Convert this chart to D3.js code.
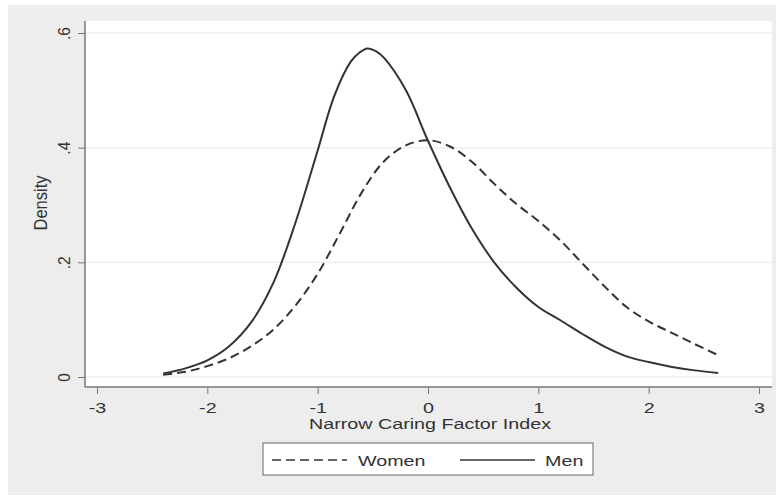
<!DOCTYPE html>
<html>
<head>
<meta charset="utf-8">
<script src="https://cdn.jsdelivr.net/npm/d3@7"></script>
<style>
  body { margin: 0; background: #fff; }
  text { font-family: "Liberation Sans", Arial, sans-serif; fill: #333; }
</style>
</head>
<body>
<svg id="chart"></svg>
<script>
// Chart dimensions
const width = 780;
const height = 498;
const stretch = 1.36; // the picture's text is drawn wide
const stretchV = 1.12; // rotated labels

// DATA
const womenX = [-2.4, -2.2, -2.0, -1.8, -1.6, -1.4, -1.2, -1.0, -0.8, -0.6, -0.4, -0.2, 0.0, 0.2, 0.4, 0.6, 0.8, 1.0, 1.2, 1.4, 1.6, 1.8, 2.0, 2.2, 2.4, 2.63];
const womenY = [0.004, 0.009, 0.019, 0.033, 0.054, 0.083, 0.125, 0.18, 0.25, 0.322, 0.376, 0.404, 0.413, 0.402, 0.375, 0.337, 0.302, 0.272, 0.238, 0.198, 0.158, 0.122, 0.097, 0.078, 0.059, 0.038];

const menX = [-2.4, -2.2, -2.0, -1.8, -1.6, -1.4, -1.2, -1.0, -0.85, -0.7, -0.62, -0.55, -0.47, -0.4, -0.2, 0.0, 0.2, 0.4, 0.6, 0.8, 1.0, 1.2, 1.4, 1.6, 1.8, 2.0, 2.2, 2.4, 2.63];
const menY = [0.006, 0.015, 0.029, 0.054, 0.096, 0.165, 0.27, 0.395, 0.49, 0.55, 0.566, 0.573, 0.568, 0.557, 0.5, 0.412, 0.33, 0.258, 0.2, 0.156, 0.122, 0.099, 0.075, 0.053, 0.036, 0.026, 0.018, 0.012, 0.007];

const xTicks = [-3, -2, -1, 0, 1, 2, 3];
const yTicks = [0, 0.2, 0.4, 0.6];
const yTickLabels = ["0", ".2", ".4", ".6"];
const legendLabels = ["Women", "Men"];

const svg = d3.select("#chart").attr("width", width).attr("height", height);

// graph region (gray) and plot region (white)
svg.append("rect")
  .attr("x", 8).attr("y", 5)
  .attr("width", 768).attr("height", 490)
  .attr("fill", "#ededed");

const plot = { left: 85, right: 772, top: 21, bottom: 387 };

svg.append("rect")
  .attr("x", plot.left).attr("y", plot.top)
  .attr("width", plot.right - plot.left).attr("height", plot.bottom - plot.top)
  .attr("fill", "#fff");

// SCALES
const x = d3.scaleLinear().domain([-3, 3]).range([97, 759]);
const y = d3.scaleLinear().domain([0, 0.6]).range([377, 33]);

// gridlines
svg.append("g")
  .selectAll("line")
  .data(yTicks)
  .enter()
  .append("line")
  .attr("x1", plot.left).attr("x2", plot.right)
  .attr("y1", d => y(d)).attr("y2", d => y(d))
  .attr("stroke", "#efefef")
  .attr("stroke-width", 1.5);

// AXES
const xAxis = d3.axisBottom(x).tickValues(xTicks).tickSize(7)
  .tickFormat(d3.format("d"));

const gx = svg.append("g")
  .attr("transform", `translate(0, ${plot.bottom})`)
  .call(xAxis);
gx.select(".domain").remove();
gx.append("line")
  .attr("x1", plot.left).attr("x2", plot.right)
  .attr("stroke", "#777").attr("stroke-width", 1.5);
gx.selectAll(".tick line").attr("stroke", "#777");
gx.selectAll(".tick text")
  .text(d => d < 0 ? "-" + Math.abs(d) : d)
  .attr("y", 26).attr("dy", null)
  .attr("transform", `scale(${stretch},1)`)
  .style("font-size", "14.5px").attr("fill", "#333");

const yAxis = d3.axisLeft(y).tickValues(yTicks).tickSize(7)
  .tickFormat((d, i) => yTickLabels[i]);

const gy = svg.append("g")
  .attr("transform", `translate(${plot.left}, 0)`)
  .call(yAxis);
gy.select(".domain").remove();
gy.append("line")
  .attr("y1", plot.top).attr("y2", plot.bottom)
  .attr("stroke", "#777").attr("stroke-width", 1.5);
gy.selectAll(".tick line").attr("stroke", "#777");
gy.selectAll(".tick text")
  .attr("x", 0).attr("y", 0).attr("dy", null)
  .attr("text-anchor", "middle")
  .attr("transform", `translate(-15,0) scale(${stretchV},1) rotate(-90)`)
  .style("font-size", "15.5px").attr("fill", "#333");

// axis titles
svg.append("text")
  .attr("transform", `translate(430, 429) scale(${stretch},1)`)
  .attr("text-anchor", "middle")
  .style("font-size", "14.5px")
  .text("Narrow Caring Factor Index");

svg.append("text")
  .attr("transform", `translate(47, 203) scale(${stretchV},1) rotate(-90)`)
  .attr("text-anchor", "middle")
  .style("font-size", "16.5px")
  .text("Density");

// CURVES
const line = d3.line()
  .x(d => x(d[0]))
  .y(d => y(d[1]))
  .curve(d3.curveCatmullRom.alpha(0.5));

svg.append("path")
  .datum(d3.zip(womenX, womenY))
  .attr("d", line)
  .attr("fill", "none")
  .attr("stroke", "#333")
  .attr("stroke-width", 2)
  .attr("stroke-dasharray", "9,5");

svg.append("path")
  .datum(d3.zip(menX, menY))
  .attr("d", line)
  .attr("fill", "none")
  .attr("stroke", "#333")
  .attr("stroke-width", 2);

// LEGEND
const legend = svg.append("g").attr("transform", "translate(263, 443)");
legend.append("rect")
  .attr("width", 330).attr("height", 32)
  .attr("fill", "#fff")
  .attr("stroke", "#666").attr("stroke-width", 1);

const legendItems = [
  { label: legendLabels[0], dash: "9,5", x0: 9, x1: 84, tx: 95 },
  { label: legendLabels[1], dash: null, x0: 197, x1: 272, tx: 282 }
];

legendItems.forEach(item => {
  legend.append("line")
    .attr("x1", item.x0).attr("x2", item.x1)
    .attr("y1", 17).attr("y2", 17)
    .attr("stroke", "#333").attr("stroke-width", 1.5)
    .attr("stroke-dasharray", item.dash);
  legend.append("text")
    .attr("transform", `translate(${item.tx}, 23) scale(${stretch},1)`)
    .style("font-size", "14.5px")
    .text(item.label);
});
</script>
</body>
</html>
